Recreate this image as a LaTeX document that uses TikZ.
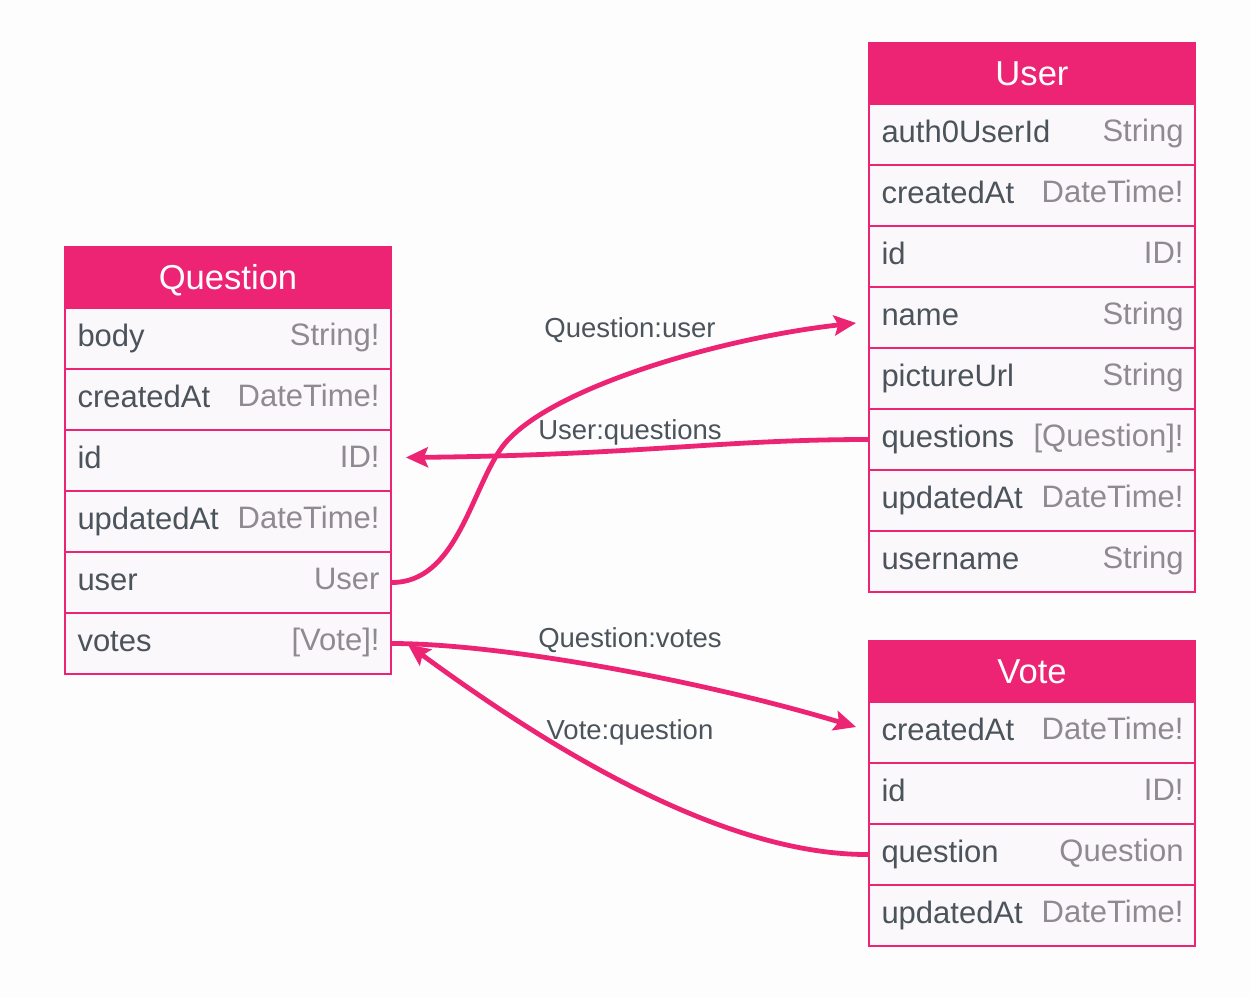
\documentclass[tikz,border=0pt]{standalone}
\usepackage{fontspec}
\setmainfont{Liberation Sans}
\usetikzlibrary{arrows.meta,calc}
\definecolor{pk}{HTML}{EC2473}
\definecolor{rowbg}{HTML}{FBF8FB}
\definecolor{fldc}{HTML}{4B535B}
\definecolor{typc}{HTML}{8F8A91}
\definecolor{bgc}{HTML}{FEFDFE}
\newcommand\tabrow[5]{%
  \node[rowbox] (#1) at (#2,#3) {};
  \node[fldtxt] (#1-f) at (#1.west) {#4};
  \node[typtxt] (#1-t) at (#1.east) {#5};
}
\begin{document}
\begin{tikzpicture}[x=0.5pt,y=-0.5pt,
  hdr/.style={rectangle, fill=pk, draw=pk, line width=0.75pt, minimum width=163pt, minimum height=30.5pt, inner sep=0pt, text=white, font=\fontsize{17.3}{20}\selectfont, text height=12.4pt, text depth=0.8pt},
  rowbox/.style={rectangle, fill=rowbg, draw=pk, line width=0.9pt, minimum width=163pt, minimum height=30.5pt, inner sep=0pt},
  fldtxt/.style={anchor=west, inner xsep=6.5pt, inner ysep=0pt, text=fldc, font=\fontsize{15.5}{18}\selectfont, text height=11pt, text depth=3.3pt},
  typtxt/.style={anchor=east, inner xsep=6pt, inner ysep=0pt, text=typc, font=\fontsize{15.5}{18}\selectfont, text height=10.4pt, text depth=3.9pt},
  rel/.style={draw=pk, line width=2.4pt, -{Stealth[length=11pt,width=10pt,inset=2pt]}},
  lbl/.style={text=fldc, font=\fontsize{13.75}{16}\selectfont, inner sep=0pt}]
\fill[bgc] (0,0) rectangle (1250,998);
\useasboundingbox (0,0) rectangle (1250,998);
% Question table
\node[hdr] (q) at (228,277.5) {Question};
\tabrow{q-body}{228}{338.5}{body}{String!}
\tabrow{q-createdAt}{228}{399.5}{createdAt}{DateTime!}
\tabrow{q-id}{228}{460.5}{id}{ID!}
\tabrow{q-updatedAt}{228}{521.5}{updatedAt}{DateTime!}
\tabrow{q-user}{228}{582.5}{user}{User}
\tabrow{q-votes}{228}{643.5}{votes}{[Vote]!}
% User table
\node[hdr] (u) at (1032,73.5) {User};
\tabrow{u-auth}{1032}{134.5}{auth0UserId}{String}
\tabrow{u-createdAt}{1032}{195.5}{createdAt}{DateTime!}
\tabrow{u-id}{1032}{256.5}{id}{ID!}
\tabrow{u-name}{1032}{317.5}{name}{String}
\tabrow{u-pictureUrl}{1032}{378.5}{pictureUrl}{String}
\tabrow{u-questions}{1032}{439.5}{questions}{[Question]!}
\tabrow{u-updatedAt}{1032}{500.5}{updatedAt}{DateTime!}
\tabrow{u-username}{1032}{561.5}{username}{String}
% Vote table
\node[hdr] (v) at (1032,671.5) {Vote};
\tabrow{v-createdAt}{1032}{732.5}{createdAt}{DateTime!}
\tabrow{v-id}{1032}{793.5}{id}{ID!}
\tabrow{v-question}{1032}{854.5}{question}{Question}
\tabrow{v-updatedAt}{1032}{915.5}{updatedAt}{DateTime!}
% connector ends
\coordinate (uin) at ($(u-name.west)+(-12,5.5)$);
\coordinate (qidin) at ($(q-id.east)+(14,-3)$);
\coordinate (vin) at ($(v-createdAt.west)+(-12,-5.5)$);
\coordinate (qvin) at ($(q-votes.east)+(16,1)$);
% connectors
\draw[rel] (q-user.east) .. controls (455,582.5) and (470,495) .. (500,450) .. controls (540,390) and (720,338) .. (uin);
\draw[rel] (u-questions.west) .. controls (720,439.5) and (640,455) .. (qidin);
\draw[rel] (q-votes.east) .. controls (500,643.5) and (700,680) .. (vin);
\draw[rel] (v-question.west) .. controls (720,855) and (545,745) .. (qvin);
% labels
\node[lbl] (l1) at (630,330) {Question:user};
\node[lbl] (l2) at (630,432) {User:questions};
\node[lbl] (l3) at (630,640) {Question:votes};
\node[lbl] (l4) at (630,732) {Vote:question};
\end{tikzpicture}
\end{document}
